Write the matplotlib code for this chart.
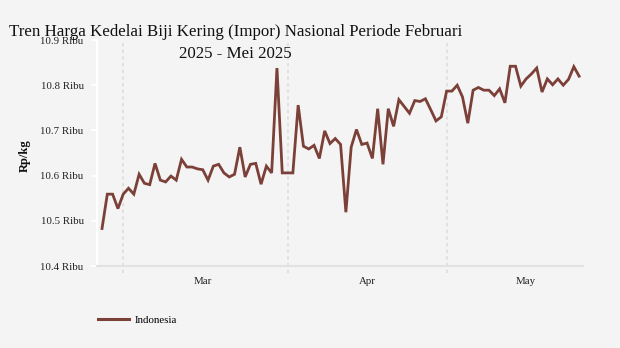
import matplotlib
matplotlib.use("Agg")
import matplotlib.pyplot as plt
import matplotlib.dates as mdates
import pandas as pd

# harga harian kedelai biji kering impor, dalam ribu Rp/kg
dates = pd.date_range("2025-02-25", "2025-05-26", freq="D")
prices = [
    10.483, 10.559, 10.559, 10.527, 10.559, 10.572, 10.559, 10.603, 10.583, 10.580,
    10.627, 10.590, 10.586, 10.599, 10.590, 10.636, 10.619, 10.619, 10.615, 10.613,
    10.590, 10.621, 10.625, 10.606, 10.597, 10.603, 10.663, 10.597, 10.625, 10.627,
    10.581, 10.621, 10.606, 10.838, 10.606, 10.606, 10.606, 10.756, 10.665, 10.659,
    10.667, 10.638, 10.699, 10.671, 10.682, 10.669, 10.519, 10.663, 10.702, 10.669,
    10.672, 10.638, 10.748, 10.625, 10.748, 10.709, 10.768, 10.753, 10.738, 10.766,
    10.764, 10.770, 10.746, 10.721, 10.730, 10.787, 10.787, 10.800, 10.774, 10.716,
    10.789, 10.795, 10.789, 10.789, 10.777, 10.792, 10.761, 10.842, 10.842, 10.798,
    10.814, 10.825, 10.838, 10.785, 10.814, 10.801, 10.814, 10.800, 10.813, 10.841,
    10.820,
]
series_name = "Indonesia"
title = "Tren Harga Kedelai Biji Kering (Impor) Nasional Periode Februari\n2025 - Mei 2025"
y_label = "Rp/kg"
y_ticks = [10.4, 10.5, 10.6, 10.7, 10.8, 10.9]
month_starts = pd.to_datetime(["2025-03-01", "2025-04-01", "2025-05-01"])
month_mids = pd.to_datetime(["2025-03-16", "2025-04-16", "2025-05-16"])
month_labels = ["Mar", "Apr", "May"]

bg = "#f4f4f4"
line_color = "#7b4037"
serif = ["Liberation Serif", "DejaVu Serif"]

fig = plt.figure(figsize=(6.2, 3.48), dpi=100, facecolor=bg)
ax = fig.add_axes([0.1565, 0.2356, 0.784, 0.6494], facecolor=bg)

ax.plot(dates, prices, color=line_color, lw=2.0, solid_joinstyle="miter",
        label=series_name, zorder=3)

# month separators
for d in month_starts:
    ax.axvline(d, ymin=-0.03, ymax=1, color="#dcdcdc", lw=1.2,
               ls=(0, (2, 2)), clip_on=False, zorder=1)

x0 = mdates.date2num(dates[0])
ax.set_xlim(x0 - 0.94, x0 + 90.75)
ax.set_ylim(10.4, 10.9)

ax.set_yticks(y_ticks)
ax.set_yticklabels([f"{v:.1f} Ribu" for v in y_ticks])
ax.set_xticks(month_starts)
ax.set_xticklabels([])
ax.set_xticks(month_mids, minor=True)
ax.set_xticklabels(month_labels, minor=True)

ax.tick_params(axis="y", length=4.3, width=1.4, color="white", pad=5.3,
               labelsize=7.8, labelcolor="#222222")
ax.tick_params(axis="x", which="both", length=0, pad=8, labelsize=7.8,
               labelcolor="#222222")
for lab in ax.get_yticklabels() + ax.get_xticklabels(minor=True):
    lab.set_family(serif)

for side in ["top", "right"]:
    ax.spines[side].set_visible(False)
ax.spines["left"].set_color("white")
ax.spines["left"].set_linewidth(1.5)
ax.spines["bottom"].set_color("#e2e2e2")
ax.spines["bottom"].set_linewidth(1.5)

ax.set_ylabel(y_label, family=serif, fontsize=9, fontweight="bold", color="#111111")
ax.yaxis.set_label_coords(-0.136, 0.49)

fig.text(0.38, 0.932, title, ha="center", va="top", ma="center",
         family=serif, fontsize=12.2, linespacing=1.5, color="#111111")

leg = fig.legend(loc="center left", bbox_to_anchor=(98 / 620, 1 - 320 / 348),
                 frameon=False, borderaxespad=0, borderpad=0,
                 handlelength=2.9, handletextpad=0.45,
                 prop={"family": serif, "size": 7.8})
for h in leg.get_lines():
    h.set_linewidth(2.2)

fig.savefig("out.png", dpi=100, facecolor=bg)
